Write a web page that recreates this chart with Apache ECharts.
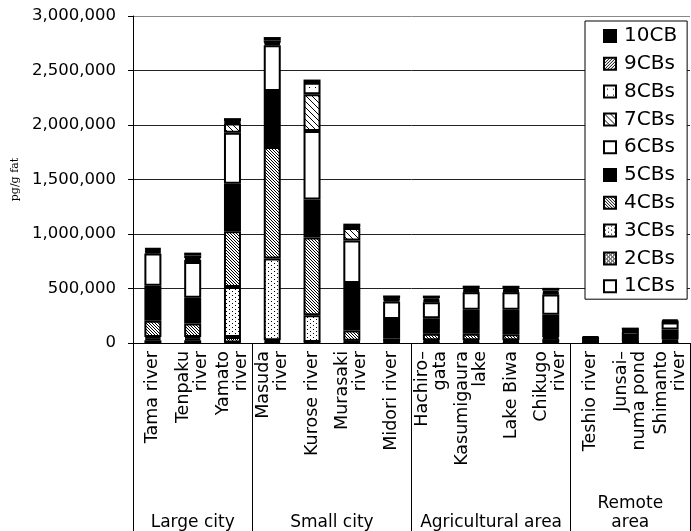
<!DOCTYPE html>
<html>
<head>
<meta charset="utf-8">
<script src="https://cdn.jsdelivr.net/npm/echarts@6/dist/echarts.min.js"></script>
<style>
html,body{margin:0;padding:0;background:#fff;}
#c{width:691px;height:531px;}
</style>
</head>
<body>
<div id="c"></div>
<script>
// ---- data ----
const categories = ['Tama river', 'Tenpaku\nriver', 'Yamato\nriver', 'Masuda\nriver', 'Kurose river', 'Murasaki\nriver', 'Midori river',
  'Hachiro\u2013\ngata', 'Kasumigaura\nlake', 'Lake Biwa', 'Chikugo\nriver', 'Teshio river', 'Junsai\u2013\nnuma pond', 'Shimanto\nriver'];
const groups = ['Large city', 'Small city', 'Agricultural area', 'Remote\narea'];
const groupSizes = [3, 4, 4, 3];
const seriesNames = ['1CBs', '2CBs', '3CBs', '4CBs', '5CBs', '6CBs', '7CBs', '8CBs', '9CBs', '10CB'];
const cb1  = [25000, 25000, 5000, 10000, 5000, 5000, 3000, 5000, 5000, 5000, 5000, 2000, 3000, 3000];
const cb2  = [15000, 15000, 50000, 15000, 5000, 5000, 10000, 10000, 10000, 10000, 30000, 2000, 3000, 10000];
const cb3  = [15000, 15000, 459000, 750000, 245000, 10000, 5000, 10000, 10000, 10000, 10000, 2000, 3000, 8000];
const cb4  = [150000, 125000, 511000, 1024000, 713000, 95000, 20000, 60000, 60000, 55000, 10000, 5000, 5000, 10000];
const cb5  = [321000, 236000, 437000, 514000, 349000, 435000, 183000, 143000, 220000, 225000, 205000, 25000, 50000, 92000];
const cb6  = [294000, 327000, 468000, 419000, 629000, 391000, 160000, 147000, 161000, 160000, 186000, 8000, 40000, 64000];
const cb7  = [15000, 20000, 83000, 15000, 337000, 114000, 15000, 10000, 10000, 10000, 10000, 2000, 5000, 5000];
const cb8  = [10000, 15000, 10000, 10000, 104000, 5000, 5000, 10000, 10000, 10000, 10000, 2000, 5000, 5000];
const cb9  = [15000, 26000, 10000, 20000, 5000, 5000, 10000, 15000, 15000, 15000, 15000, 2000, 5000, 5000];
const cb10 = [10000, 25000, 30000, 30000, 25000, 30000, 25000, 25000, 25000, 25000, 25000, 12000, 22000, 15000];
const seriesValues = [cb1, cb2, cb3, cb4, cb5, cb6, cb7, cb8, cb9, cb10];
const yTicks = { min: 0, max: 3000000, interval: 500000 };

// ---- patterns ----
function pattern(w, h, test) {
  const c = document.createElement('canvas');
  c.width = w; c.height = h;
  const g = c.getContext('2d');
  g.fillStyle = '#fff'; g.fillRect(0, 0, w, h);
  g.fillStyle = '#000';
  for (let x = 0; x < w; x++) for (let y = 0; y < h; y++) if (test(x, y)) g.fillRect(x, y, 1, 1);
  return { image: c, repeat: 'repeat' };
}
const fills = [
  '#ffffff',
  pattern(4, 4, (x, y) => (x + y) % 4 === 0 || (x - y + 4) % 4 === 0),
  pattern(6, 4, (x, y) => (x === 1 && y === 1) || (x === 4 && y === 3)),
  pattern(3, 3, (x, y) => x === y),
  '#000000',
  '#ffffff',
  pattern(6, 6, (x, y) => x === y),
  pattern(6, 6, (x, y) => x === 3 && y === 3),
  pattern(3, 3, (x, y) => (x + y) % 3 === 2),
  '#000000'
];

const FONT = 'DejaVu Sans';
const chart = echarts.init(document.getElementById('c'), null, { renderer: 'canvas' });

const series = seriesNames.map((n, i) => ({
  name: n,
  type: 'bar',
  stack: 'total',
  barWidth: 17,
  data: seriesValues[i],
  itemStyle: { color: fills[i], borderColor: '#000', borderWidth: 2 },
  emphasis: { disabled: true },
  animation: false
}));

chart.setOption({
  animation: false,
  backgroundColor: '#fff',
  textStyle: { fontFamily: FONT, color: '#000' },
  grid: { left: 133, right: 1, top: 16, bottom: 188, containLabel: false },
  legend: {
    data: seriesNames.slice().reverse(),
    orient: 'vertical',
    left: 585, top: 21,
    padding: [5, 10, 3, 18],
    itemGap: 7.8,
    itemWidth: 12, itemHeight: 12,
    icon: 'rect',
    backgroundColor: '#fff',
    borderColor: '#000', borderWidth: 1,
    itemStyle: { borderColor: '#000', borderWidth: 2 },
    textStyle: { fontFamily: FONT, fontSize: 20, color: '#000', padding: [0, 0, 0, 3] }
  },
  xAxis: [
    {
      type: 'category',
      data: categories,
      axisLine: { show: true, lineStyle: { color: '#000', width: 1 } },
      axisTick: { show: false },
      axisLabel: { interval: 0, rotate: 90, margin: 8, fontFamily: FONT, fontSize: 17.5, color: '#000', lineHeight: 18 },
      splitLine: { show: false }
    },
    {
      type: 'category',
      data: categories,
      position: 'bottom',
      axisLine: { show: false },
      axisLabel: { show: false },
      axisTick: {
        show: true, length: 200, inside: false,
        interval: (idx) => idx === 0 || idx === 3 || idx === 7 || idx === 11,
        lineStyle: { color: '#000', width: 1 }
      },
      splitLine: { show: false }
    }
  ],
  yAxis: {
    type: 'value',
    min: yTicks.min, max: yTicks.max, interval: yTicks.interval,
    name: 'pg/g fat',
    nameLocation: 'middle',
    nameGap: 107,
    nameRotate: 90,
    nameTextStyle: { fontFamily: 'DejaVu Serif', fontSize: 11, color: '#000' },
    axisLine: { show: true, lineStyle: { color: '#000', width: 1 } },
    axisTick: { show: true, inside: false, length: 5, lineStyle: { color: '#000' } },
    axisLabel: {
      margin: 17, fontFamily: FONT, fontSize: 16.5, color: '#000',
      formatter: v => v.toLocaleString('en-US')
    },
    splitLine: { show: true, lineStyle: { color: ['#000', '#222', '#222', '#222', '#222', '#222', '#888'], width: 1 } }
  },
  series: series
});

// group labels centred under their categories
const graphics = [];
let start = 0;
groups.forEach((g, gi) => {
  const first = start, last = start + groupSizes[gi] - 1;
  const x1 = chart.convertToPixel({ xAxisIndex: 0 }, first);
  const x2 = chart.convertToPixel({ xAxisIndex: 0 }, last);
  graphics.push({
    type: 'text',
    x: (x1 + x2) / 2,
    y: 532,
    style: {
      text: g, fill: '#000', font: '17px "' + FONT + '"',
      align: 'center', verticalAlign: 'bottom', textAlign: 'center', textVerticalAlign: 'bottom',
      lineHeight: 19
    },
    silent: true
  });
  start += groupSizes[gi];
});
chart.setOption({ graphic: graphics });
</script>
</body>
</html>
